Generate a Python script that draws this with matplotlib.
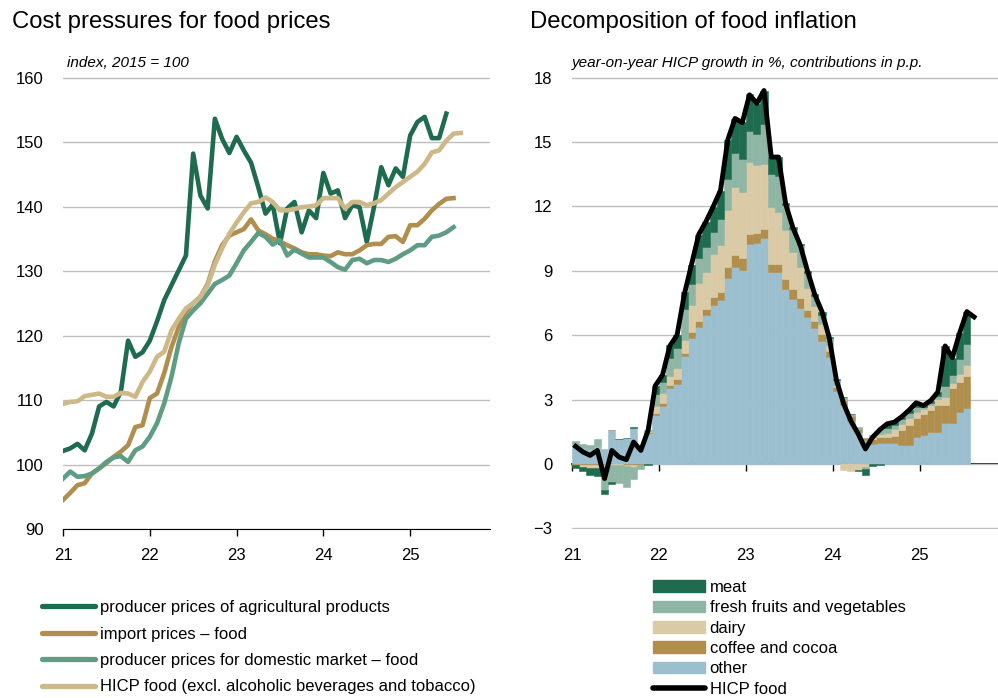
import numpy as np
import matplotlib.pyplot as plt
from matplotlib.patches import Patch
from matplotlib.lines import Line2D

plt.rcParams['font.family'] = ['Liberation Sans', 'DejaVu Sans']

# ---- left panel: monthly indices from Jan 2021, 2015 = 100
agri = [102.1, 102.5, 103.2, 102.2, 104.8, 109.0, 109.7, 109.0, 111.3, 119.2,
        116.7, 117.4, 119.2, 122.2, 125.5, 127.8, 130.1, 132.4, 148.2, 141.7,
        139.7, 153.6, 150.5, 148.3, 150.8, 148.7, 146.8, 143.0, 138.9, 140.3,
        134.3, 139.7, 140.7, 136.0, 139.4, 138.2, 145.2, 142.0, 142.5, 138.2,
        140.2, 139.9, 134.5, 139.9, 146.1, 143.3, 145.9, 144.6, 151.0, 153.1,
        153.9, 150.6, 150.6, 154.4]
imports = [94.5, 95.6, 96.8, 97.1, 98.6, 99.4, 100.2, 101.2, 102.0, 103.0,
           105.8, 106.1, 110.3, 111.0, 114.2, 118.2, 121.3, 123.7, 125.0, 126.0,
           128.0, 131.5, 134.0, 135.5, 136.0, 136.5, 138.0, 136.3, 135.7, 135.0,
           134.6, 134.0, 133.5, 132.9, 132.6, 132.6, 132.4, 132.3, 132.9, 132.6,
           132.6, 133.2, 134.0, 134.2, 134.2, 135.3, 135.4, 134.5, 137.1, 137.1,
           138.1, 139.4, 140.4, 141.2, 141.3]
domestic = [97.8, 98.9, 98.1, 98.2, 98.6, 99.4, 100.4, 101.1, 101.3, 100.4,
            102.2, 102.8, 104.3, 106.4, 109.5, 113.6, 118.8, 122.6, 123.9, 125.0,
            126.5, 128.0, 128.6, 129.3, 131.2, 133.2, 134.5, 135.9, 135.3, 134.1,
            134.8, 132.4, 133.3, 132.7, 132.1, 132.1, 132.1, 131.4, 130.6, 130.2,
            131.7, 131.9, 131.2, 131.7, 131.7, 131.4, 131.9, 132.6, 133.2, 134.0,
            134.0, 135.3, 135.5, 136.0, 136.8]
hicp_idx = [109.4, 109.7, 109.8, 110.6, 110.8, 111.0, 110.5, 110.5, 111.1, 111.0,
            110.5, 112.8, 114.4, 116.7, 117.5, 120.8, 122.6, 124.2, 125.0, 126.0,
            127.8, 131.0, 133.5, 135.8, 137.5, 139.1, 140.5, 140.7, 141.4, 140.7,
            139.4, 139.4, 139.6, 139.9, 140.0, 140.2, 141.3, 141.3, 141.3, 139.7,
            140.7, 140.7, 140.2, 140.5, 141.0, 142.0, 143.0, 143.8, 144.6, 145.4,
            146.6, 148.4, 148.7, 150.2, 151.3, 151.4]

# ---- right panel: contributions in p.p., monthly from Jan 2021
other = [0.85, 0.75, 0.7, 0.85, 0.7, 1.6, 1.15, 1.2, 1.68, 0.85,
         1.45, 2.3, 2.7, 3.52, 3.71, 5.02, 5.87, 6.37, 6.92, 7.42,
         7.65, 8.66, 9.2, 9.04, 10.23, 10.28, 10.51, 8.96, 8.96, 8.16,
         7.7, 7.26, 6.85, 6.35, 5.75, 5.0, 3.4, 2.75, 2.0, 1.5,
         1.1, 0.95, 1.0, 0.96, 0.96, 0.88, 0.88, 1.27, 1.35, 1.5,
         1.5, 1.89, 1.89, 2.43, 2.6]
coffee = [-0.05, -0.05, -0.05, -0.05, -0.03, 0, 0, -0.05, -0.05, -0.05,
          0.05, 0.08, 0.15, 0.15, 0.23, 0.15, 0.3, 0.28, 0.3, 0.38,
          0.38, 0.5, 0.55, 0.55, 0.5, 0.46, 0.46, 0.38, 0.38, 0.46,
          0.46, 0.46, 0.34, 0.32, 0.3, 0.25, 0.2, 0.2, 0.25, 0.15,
          0.1, 0.2, 0.25, 0.3, 0.35, 0.7, 0.93, 0.85, 1.0, 1.0,
          1.24, 0.85, 1.63, 1.4, 1.5]
dairy = [0, -0.1, -0.15, -0.15, -0.05, -0.05, -0.05, -0.05, -0.1, 0,
         0.05, 0.3, 0.45, 0.45, 0.55, 0.6, 1.23, 1.78, 1.73, 2.0,
         2.16, 2.67, 3.17, 3.09, 3.32, 3.2, 3.0, 2.63, 2.4, 2.27,
         1.73, 1.47, 1.0, 0.7, 0.45, 0.3, 0.1, -0.3, -0.35, -0.3,
         -0.15, 0.1, 0.15, 0.2, 0.3, 0.3, 0.35, 0.3, 0.2, 0.25,
         0.3, 0.4, 0.23, 0.37, 0.5]
fruit = [0.2, 0.2, 0.2, 0.3, -1.15, -0.8, -0.85, -0.95, -0.55, -0.2,
         0.05, 0.6, 0.5, 0.8, 0.9, 1.45, 1.0, 1.16, 1.16, 1.0,
         1.24, 1.47, 1.55, 1.55, 1.47, 1.44, 1.85, 1.55, 1.7, 1.16,
         1.05, 1.0, 0.7, 0.45, 0.45, 0.3, 0.2, 0.15, 0.1, 0.05,
         -0.1, 0.1, 0.2, 0.2, 0.2, 0.2, 0.2, 0.25, 0.1, 0.1,
         0.15, 0.5, 0.4, 0.7, 1.0]
meat = [-0.15, -0.2, -0.3, -0.35, -0.15, -0.1, 0, 0.03, 0.05, 0,
        -0.05, 0.35, 0.35, 0.6, 0.6, 0.78, 0.85, 1.08, 1.16, 1.16,
        1.31, 1.78, 1.62, 1.7, 1.7, 1.39, 1.55, 0.77, 0.85, 0.1,
        0.1, 0.05, 0.1, 0.08, 0.15, 0.05, 0.05, 0, 0, -0.05,
        -0.25, -0.1, -0.05, 0.2, 0.14, 0.1, 0.15, 0.2, 0.1, 0.1,
        0.15, 1.85, 0.8, 1.2, 1.5]
hicp = [0.82, 0.56, 0.4, 0.63, -0.68, 0.63, 0.32, 0.2, 1.02, 0.63,
        1.56, 3.65, 4.15, 5.5, 6.0, 7.9, 9.3, 10.7, 11.3, 12.0,
        12.75, 15.1, 16.1, 15.9, 17.2, 16.8, 17.4, 14.3, 14.3, 12.1,
        11.0, 10.2, 9.0, 7.9, 7.1, 5.9, 3.9, 2.8, 2.0, 1.4,
        0.7, 1.25, 1.6, 1.87, 1.95, 2.2, 2.5, 2.85, 2.72, 2.95,
        3.35, 5.5, 4.95, 6.1, 7.1, 6.85]

years = [2021, 2022, 2023, 2024, 2025]
year_labels = ['21', '22', '23', '24', '25']

c_dark = '#1f6b4f'
c_gold = '#b08f4e'
c_mid = '#5f9c84'
c_tan = '#cdb888'
c_fruit = '#8fb5a5'
c_dairy = '#dbcaa6'
c_other = '#9bbfcf'
grid_c = '#bfbfbf'
fs = 12


def months(n, offset=0.0):
    return 2021 + (np.arange(n) + offset) / 12


fig = plt.figure(figsize=(9.98, 6.98), dpi=100)
ax1 = fig.add_axes([63 / 998, 1 - 529 / 698, 427 / 998, 452 / 698])
ax2 = fig.add_axes([572 / 998, 1 - 529 / 698, 426 / 998, 452 / 698])

# ---- left chart
ax1.plot(months(len(agri)), agri, color=c_dark, lw=3.3)
ax1.plot(months(len(imports)), imports, color=c_gold, lw=3.3)
ax1.plot(months(len(domestic)), domestic, color=c_mid, lw=3.3)
ax1.plot(months(len(hicp_idx)), hicp_idx, color=c_tan, lw=3.3)
ax1.set_ylim(90, 160.08)
ax1.set_yticks(range(90, 161, 10))
ax1.set_xlim(2021, 2025.92)
ax1.set_xticks(years)
ax1.set_xticklabels(year_labels)
ax1.grid(axis='y', color=grid_c, lw=1)
ax1.set_axisbelow(True)
for s in ['left', 'right', 'top']:
    ax1.spines[s].set_visible(False)
ax1.tick_params(axis='y', length=0, pad=14, labelsize=fs)
ax1.tick_params(axis='x', length=5, width=1, pad=9, labelsize=fs)

# ---- right chart: stacked contributions
n = len(other)
xb = months(n)
pos = np.zeros(n)
neg = np.zeros(n)
layers = [(other, c_other), (coffee, c_gold), (dairy, c_dairy),
          (fruit, c_fruit), (meat, c_dark)]
for vals, col in layers:
    v = np.array(vals, dtype=float)
    bottom = np.where(v >= 0, pos, neg)
    ax2.bar(xb, v, width=1 / 12, bottom=bottom, align='edge', color=col,
            edgecolor=col, linewidth=0.4, zorder=2)
    pos += np.clip(v, 0, None)
    neg += np.clip(v, None, 0)
ax2.plot(months(len(hicp), 0.5), hicp, color='black', lw=3.5, zorder=4)
ax2.set_ylim(-3.03, 18.03)
ax2.set_yticks(range(-3, 19, 3))
ax2.set_yticklabels([str(t).replace('-', '\u2212') for t in range(-3, 19, 3)])
ax2.set_xlim(2021, 2025.9)
ax2.set_xticks(years)
ax2.set_xticklabels(year_labels)
ax2.grid(axis='y', color=grid_c, lw=1, zorder=0)
ax2.set_axisbelow(True)
for s in ['left', 'right', 'top', 'bottom']:
    ax2.spines[s].set_visible(False)
ax2.tick_params(axis='y', length=0, pad=14, labelsize=fs)
ax2.tick_params(axis='x', length=0, pad=14, labelsize=fs)
zero = ax2.secondary_xaxis(3.03 / 21.06)
zero.set_xticks(years)
zero.tick_params(axis='x', length=5, width=1, labelbottom=False)
zero.spines['bottom'].set_linewidth(1.2)

# ---- titles
fig.text(12 / 998, 1 - 22 / 698, 'Cost pressures for food prices',
         fontsize=17.2, va='center', ha='left')
fig.text(530 / 998, 1 - 22 / 698, 'Decomposition of food inflation',
         fontsize=17.2, va='center', ha='left')
fig.text(67 / 998, 1 - 63 / 698, 'index, 2015 = 100', fontsize=11,
         style='italic', va='center', ha='left')
fig.text(572 / 998, 1 - 63 / 698,
         'year-on-year HICP growth in %, contributions in p.p.',
         fontsize=11, style='italic', va='center', ha='left')

# ---- legends
h1 = [Line2D([], [], color=c, lw=3.8, solid_capstyle='round')
      for c in [c_dark, c_gold, c_mid, c_tan]]
l1 = ['producer prices of agricultural products', 'import prices \u2013 food',
      'producer prices for domestic market \u2013 food',
      'HICP food (excl. alcoholic beverages and tobacco)']
fig.legend(h1, l1, loc='upper left', bbox_to_anchor=(42 / 998, 1 - 600 / 698),
           frameon=False, fontsize=fs, borderpad=0, borderaxespad=0,
           handlelength=3.2, handletextpad=0.3, labelspacing=0.69)

h2 = [Patch(color=c) for c in [c_dark, c_fruit, c_dairy, c_gold, c_other]]
h2.append(Line2D([], [], color='black', lw=4, solid_capstyle='round'))
l2 = ['meat', 'fresh fruits and vegetables', 'dairy', 'coffee and cocoa',
      'other', 'HICP food']
fig.legend(h2, l2, loc='upper left', bbox_to_anchor=(653 / 998, 1 - 580 / 698),
           frameon=False, fontsize=fs, borderpad=0, borderaxespad=0,
           handlelength=3.1, handletextpad=0.3, labelspacing=0.32)

fig.savefig('out.png', dpi=100)
